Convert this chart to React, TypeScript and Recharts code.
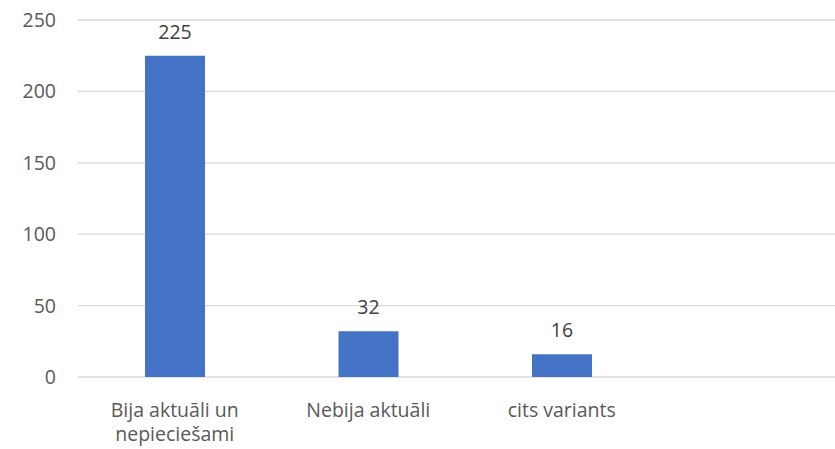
import { BarChart, Bar, XAxis, YAxis, CartesianGrid, LabelList } from 'recharts';

const categories = ['Bija aktuāli un\nnepieciešami', 'Nebija aktuāli', 'cits variants', ''];
const values: (number | null)[] = [225, 32, 16, null];
const yTicks = [0, 50, 100, 150, 200, 250];

const chartData = categories.map((name, i) => ({ name, value: values[i] }));

const FONT = '"Open Sans", "Liberation Sans", sans-serif';
const TEXT = '#595959';

function CategoryTick({ x, y, payload }: any) {
  const lines = String(payload.value).split('\n');
  return (
    <text x={x} y={y} textAnchor="middle" fill={TEXT} fontSize={19.5} fontFamily={FONT}>
      {lines.map((line, i) => (
        <tspan key={i} x={x} dy={i === 0 ? 32 : 24}>
          {line}
        </tspan>
      ))}
    </text>
  );
}

export default function App() {
  return (
    <div style={{ width: 835, height: 449, overflow: 'hidden', background: '#fff' }}>
      <style>{'body{margin:0}'}</style>
      <BarChart
        width={852}
        height={449}
        data={chartData}
        margin={{ top: 20, right: 0, bottom: 0, left: 0 }}
      >
        <CartesianGrid vertical={false} stroke="#d9d9d9" strokeWidth={1.3} />
        <XAxis
          dataKey="name"
          axisLine={false}
          tickLine={false}
          height={72}
          interval={0}
          tick={<CategoryTick />}
        />
        <YAxis
          domain={[0, 250]}
          ticks={yTicks}
          axisLine={false}
          tickLine={false}
          width={78}
          tickSize={0}
          tickMargin={22}
          tick={{ fill: TEXT, fontSize: 19.5, fontFamily: FONT }}
        />
        <Bar dataKey="value" fill="#4472C4" barSize={60} isAnimationActive={false}>
          <LabelList
            dataKey="value"
            position="top"
            offset={17}
            fill="#404040"
            fontSize={19.5}
            fontFamily={FONT}
          />
        </Bar>
      </BarChart>
    </div>
  );
}
